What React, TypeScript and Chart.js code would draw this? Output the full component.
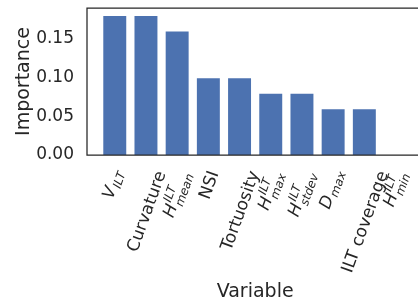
import { useEffect, useRef } from "react";
import { Chart, registerables } from "chart.js";

Chart.register(...registerables);

// ---- data ----
const categories = [
  "V_ILT",
  "Curvature",
  "H_mean^ILT",
  "NSI",
  "Tortuosity",
  "H_max^ILT",
  "H_stdev^ILT",
  "D_max",
  "ILT coverage",
  "H_min^ILT",
];
const importance = [0.18, 0.18, 0.16, 0.1, 0.1, 0.08, 0.08, 0.06, 0.06, 0.0];

// tick label pieces (math labels: italic base + superscript + subscript)
const labelBase = ["V", "Curvature", "H", "NSI", "Tortuosity", "H", "H", "D", "ILT coverage", "H"];
const labelSup = ["", "", "ILT", "", "", "ILT", "ILT", "", "", "ILT"];
const labelSub = ["ILT", "", "mean", "", "", "max", "stdev", "max", "", "min"];
const labelMath = [true, false, true, false, false, true, true, true, false, true];

const yTickValues = [0, 0.05, 0.1, 0.15];

const TEXT = "#262626";
const FAMILY = "'DejaVu Sans'";
const FS = 17;
const SFS = 12;
const PAD = 13;
const X_MIN = -0.89;
const X_MID = 4.5; // centre of the full axis (-0.89 .. 9.89), whose right part is cut off by the frame
const X_VIEW_MAX = 9.72;

const zeroPad = (s: any) => {
  s.paddingTop = 0;
  s.paddingBottom = 0;
  s.paddingLeft = 0;
  s.paddingRight = 0;
};

const framePlugin = {
  id: "frame",
  afterDatasetsDraw(chart: any) {
    const { ctx, chartArea } = chart;
    const { left, right, top, bottom } = chartArea;
    ctx.save();
    ctx.strokeStyle = TEXT;
    ctx.lineWidth = 1.25;
    ctx.beginPath();
    ctx.moveTo(right + 2, top);
    ctx.lineTo(left, top);
    ctx.lineTo(left, bottom);
    ctx.lineTo(right + 2, bottom);
    ctx.stroke();
    ctx.restore();
  },
};

const xLabelPlugin = {
  id: "xlabels",
  afterDraw(chart: any) {
    const ctx = chart.ctx;
    const xs = chart.scales.x;
    const area = chart.chartArea;
    const top = area.bottom + PAD;
    const th = (-70 * Math.PI) / 180;
    const c = Math.cos(th);
    const s = Math.sin(th);
    ctx.save();
    ctx.fillStyle = TEXT;
    ctx.textAlign = "left";
    ctx.textBaseline = "alphabetic";
    labelBase.forEach((base, i) => {
      const math = labelMath[i];
      const sup = labelSup[i];
      const sub = labelSub[i];
      const baseFont = `${math ? "italic " : ""}${FS}px ${FAMILY}`;
      const smallFont = `italic ${SFS}px ${FAMILY}`;
      ctx.font = baseFont;
      const wb = ctx.measureText(base).width;
      ctx.font = smallFont;
      const wsup = sup ? ctx.measureText(sup).width : 0;
      const wsub = sub ? ctx.measureText(sub).width : 0;
      const gap = math && (sup || sub) ? 1 : 0;
      const L = wb + gap + Math.max(wsup, wsub);
      const supY = -0.45 * FS;
      const subY = sup ? 0.3 * FS : 0.2 * FS;
      let y0: number, y1: number;
      if (math) {
        y0 = sup ? Math.min(supY - 0.73 * SFS, -0.73 * FS) : -0.73 * FS;
        y1 = sub ? subY + 0.24 * SFS : 0.24 * FS;
      } else {
        y0 = -0.93 * FS;
        y1 = 0.24 * FS;
      }
      const pts = [
        [0, y0],
        [L, y0],
        [0, y1],
        [L, y1],
      ].map(([x, y]) => [x * c - y * s, x * s + y * c]);
      const minX = Math.min(...pts.map((p) => p[0]));
      const maxX = Math.max(...pts.map((p) => p[0]));
      const minY = Math.min(...pts.map((p) => p[1]));
      const tx = xs.getPixelForValue(i) - (minX + maxX) / 2;
      const ty = top - minY;
      ctx.save();
      ctx.translate(tx, ty);
      ctx.rotate(th);
      ctx.font = baseFont;
      ctx.fillText(base, 0, 0);
      ctx.font = smallFont;
      if (sup) ctx.fillText(sup, wb + gap, supY);
      if (sub) ctx.fillText(sub, wb + gap, subY);
      ctx.restore();
    });
    // x-axis title, centred on the full (clipped) axis
    ctx.font = `19px ${FAMILY}`;
    ctx.textAlign = "center";
    ctx.textBaseline = "middle";
    ctx.fillText("Variable", xs.getPixelForValue(X_MID), chart.height - 11.4);
    ctx.restore();
  },
};

export default function App() {
  const ref = useRef<HTMLCanvasElement | null>(null);

  useEffect(() => {
    document.body.style.margin = "0";
    const canvas = ref.current;
    if (!canvas) return;
    const chart = new Chart(canvas, {
      type: "bar",
      data: {
        labels: categories,
        datasets: [
          {
            label: "Importance",
            data: importance.map((v, i) => ({ x: i, y: v })) as any,
            backgroundColor: "#4c72b0",
            borderColor: "rgba(255,255,255,0.35)",
            borderWidth: 1,
            categoryPercentage: 1,
            barPercentage: 0.8,
          },
        ],
      },
      options: {
        animation: false,
        responsive: false,
        devicePixelRatio: 1,
        layout: { padding: { top: 8, right: 0, bottom: 0, left: 0 } },
        plugins: { legend: { display: false }, tooltip: { enabled: false } },
        scales: {
          x: {
            type: "linear",
            offset: false,
            min: X_MIN,
            max: X_VIEW_MAX,
            grid: { display: false, drawTicks: false },
            border: { display: false },
            ticks: { display: false },
            afterFit: (s: any) => {
              s.height = 148;
              zeroPad(s);
            },
            title: { display: false },
          },
          y: {
            min: 0,
            max: 0.189,
            afterBuildTicks: (s: any) => {
              s.ticks = yTickValues.map((v) => ({ value: v }));
            },
            afterFit: (s: any) => {
              s.width = 87;
              zeroPad(s);
            },
            grid: { display: false, drawTicks: false },
            border: { display: false },
            ticks: {
              padding: 13,
              color: TEXT,
              font: { family: "DejaVu Sans", size: 17 },
              callback: (v: any) => Number(v).toFixed(2),
            },
            title: {
              display: true,
              text: "Importance",
              color: TEXT,
              font: { family: "DejaVu Sans", size: 19 },
              padding: { top: 13, bottom: 0 },
            },
          },
        },
      },
      plugins: [framePlugin, xLabelPlugin],
    });
    return () => chart.destroy();
  }, []);

  return (
    <div style={{ width: 418, height: 303, overflow: "hidden", background: "#fff" }}>
      <canvas ref={ref} width={418} height={303} style={{ display: "block" }} />
    </div>
  );
}
